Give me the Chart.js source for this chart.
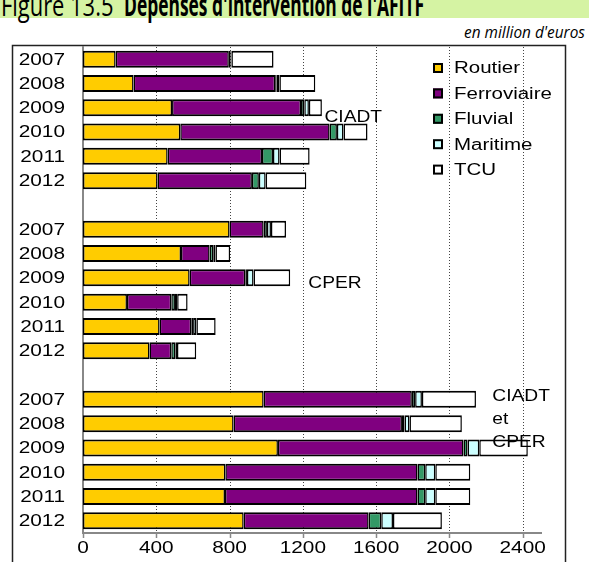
<!DOCTYPE html>
<html>
<head>
<meta charset="utf-8">
<script src="https://cdn.jsdelivr.net/npm/chart.js@4"></script>
<style>
  body { margin: 0; background: #fff; width: 589px; height: 562px; overflow: hidden; position: relative; }
  #band { position: absolute; left: 0; top: 0; width: 589px; height: 18px; background: #d5f3a3; }
  .title { position: absolute; top: -10px; font: 30px/30px "Open Sans", sans-serif; white-space: nowrap;
           transform-origin: 0 0; color: #000; }
  #t1 { left: 1px; transform: scale(0.73, 1); }
  #t2 { left: 124px; font-weight: 700; transform: scale(0.58, 1); }
  #unit { position: absolute; right: 4px; top: 21px; font: italic 16px "Open Sans", sans-serif; color: #000;
          transform: scale(0.96, 1); transform-origin: 100% 0; }
  canvas { position: absolute; left: 0; top: 0; }
</style>
</head>
<body>
<div id="band"></div>
<div class="title" id="t1">Figure 13.5</div>
<div class="title" id="t2">Dépenses d'intervention de l'AFITF</div>
<div id="unit">en million d'euros</div>
<canvas id="grafico" width="589" height="562"></canvas>
<script>
const canvas = document.querySelector('#grafico');

// 3 blocs : CIADT, CPER, CIADT et CPER (ligne vide entre les blocs)
const categories = ['2007', '2008', '2009', '2010', '2011', '2012', '',
                    '2007', '2008', '2009', '2010', '2011', '2012', '',
                    '2007', '2008', '2009', '2010', '2011', '2012'];

const routier     = [178, 276, 486, 531, 462, 407, null, 800, 535, 582, 240, 418, 363, null, 986, 822, 1064, 777, 775, 877];
const ferroviaire = [618, 773, 704, 815, 515, 515, null, 186, 156, 304, 242, 173, 119, null, 809, 919, 1013, 1049, 1051, 682];
const fluvial     = [8, 8, 18, 40, 60, 38, null, 18, 20, 9, 20, 10, 22, null, 18, 14, 22, 42, 42, 69];
const maritime    = [6, 15, 25, 36, 36, 37, null, 22, 12, 36, 12, 18, 9, null, 37, 27, 64, 55, 55, 64];
const tcu         = [230, 196, 71, 131, 164, 222, null, 82, 80, 200, 57, 105, 105, null, 295, 286, 265, 191, 191, 267];

const seriesNames = ['Routier', 'Ferroviaire', 'Fluvial', 'Maritime', 'TCU'];
const seriesColors = ['#ffcc00', '#800080', '#339966', '#ccffff', '#ffffff'];
const xTicks = [0, 400, 800, 1200, 1600, 2000, 2400];

// étiquettes des blocs : [texte, valeur x, position en catégories]
const blockLabels = [
  ['CIADT', 1318, 2.4],
  ['CPER', 1230, 9.25],
  ['CIADT', 2234, 13.9],
  ['et', 2234, 14.85],
  ['CPER', 2234, 15.8]
];

const FONT = '16px "Liberation Sans", Arial, sans-serif';

function wideText(ctx, text, x, y, align, sx) {
  ctx.save();
  ctx.translate(x, y);
  ctx.scale(sx || 1.3, 1);
  ctx.font = FONT;
  ctx.fillStyle = '#000';
  ctx.textAlign = align;
  ctx.textBaseline = 'middle';
  ctx.fillText(text, 0, 0);
  ctx.restore();
}

const habillage = {
  id: 'habillage',
  beforeDraw(chart) {
    const ctx = chart.ctx;
    ctx.save();
    ctx.strokeStyle = '#222';
    ctx.lineWidth = 1.5;
    ctx.strokeRect(12.5, 45.5, 553, 560);
    ctx.restore();
  },
  beforeDatasetsDraw(chart) {
    // quadrillage pointillé + graduations
    const ctx = chart.ctx;
    const xs = chart.scales.x;
    const area = chart.chartArea;
    ctx.save();
    xTicks.forEach(v => {
      const x = Math.round(xs.getPixelForValue(v)) + 0.5;
      if (v !== 0) {
        ctx.strokeStyle = '#444';
        ctx.lineWidth = 1;
        ctx.setLineDash([1, 2]);
        ctx.beginPath();
        ctx.moveTo(x, area.top);
        ctx.lineTo(x, area.bottom);
        ctx.stroke();
      }
      ctx.setLineDash([]);
      ctx.strokeStyle = '#888';
      ctx.lineWidth = 1.5;
      ctx.beginPath();
      ctx.moveTo(x, area.bottom);
      ctx.lineTo(x, area.bottom + 5);
      ctx.stroke();
    });
    ctx.restore();
  },
  afterDraw(chart) {
    const ctx = chart.ctx;
    const xs = chart.scales.x;
    const ys = chart.scales.y;

    categories.forEach((c, i) => {
      if (c) wideText(ctx, c, 65, ys.getPixelForValue(i) + 1, 'right');
    });
    xTicks.forEach(v => {
      wideText(ctx, String(v), xs.getPixelForValue(v), 549, 'center');
    });

    const step = ys.getPixelForValue(1) - ys.getPixelForValue(0);
    blockLabels.forEach(([t, v, pos]) => {
      wideText(ctx, t, xs.getPixelForValue(v), ys.getPixelForValue(0) + pos * step, 'left', 1.2);
    });

    // légende
    seriesNames.forEach((name, i) => {
      const y = 68 + i * 25.4;
      ctx.save();
      ctx.fillStyle = seriesColors[i];
      ctx.fillRect(433, y - 5, 10, 10);
      ctx.strokeStyle = '#000';
      ctx.lineWidth = 2;
      ctx.strokeRect(434, y - 4, 8, 8);
      ctx.restore();
      wideText(ctx, name, 454, y + 1, 'left', 1.28);
    });
  }
};

const allSeries = [routier, ferroviaire, fluvial, maritime, tcu];

const config = {
  type: 'bar',
  data: {
    labels: categories,
    datasets: allSeries.map((d, i) => ({
      label: seriesNames[i],
      data: d,
      backgroundColor: seriesColors[i],
      borderColor: '#000',
      borderWidth: { top: 2, bottom: 2, left: 1.5, right: 1.5 },
      borderSkipped: false,
      barPercentage: 0.7,
      categoryPercentage: 1
    }))
  },
  options: {
    responsive: false,
    animation: false,
    indexAxis: 'y',
    layout: { padding: { left: 83, right: 48, top: 47, bottom: 0 } },
    plugins: { legend: { display: false }, tooltip: { enabled: false } },
    scales: {
      x: {
        stacked: true,
        min: 0,
        max: 2500,
        ticks: { display: false, stepSize: 400 },
        afterFit: s => { s.height = 29; },
        grid: { display: false },
        border: { display: true, color: '#888', width: 2 }
      },
      y: {
        stacked: true,
        ticks: { display: false },
        afterFit: s => { s.width = 0; },
        grid: { display: false },
        border: { display: true, color: '#888', width: 2 }
      }
    }
  },
  plugins: [habillage]
};

new Chart(canvas, config);
</script>
</body>
</html>
